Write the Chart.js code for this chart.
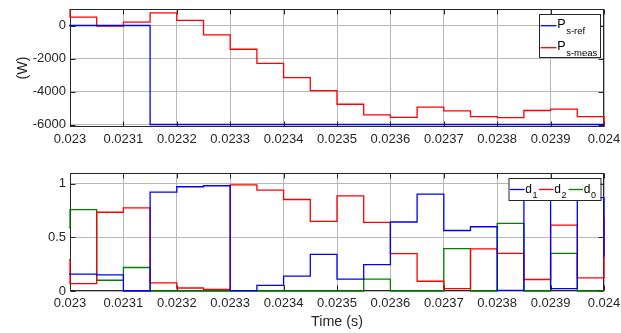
<!DOCTYPE html>
<html><head><meta charset="utf-8">
<script src="https://cdn.jsdelivr.net/npm/chart.js@4/dist/chart.umd.min.js"></script>
<style>
html,body{margin:0;padding:0;background:#fff;width:621px;height:333px;overflow:hidden}
canvas{position:absolute;left:0}
#c1{top:0}
#c2{top:160px}
</style></head><body>
<canvas id="c1" width="621" height="160"></canvas>
<canvas id="c2" width="621" height="173"></canvas>
<script>
// ---- data ----
const time = [0.02295, 0.023, 0.02305, 0.0231, 0.02315, 0.0232, 0.02325, 0.0233, 0.02335, 0.0234, 0.02345,
              0.0235, 0.02355, 0.0236, 0.02365, 0.0237, 0.02375, 0.0238, 0.02385, 0.0239, 0.02395, 0.024];
const pRef  = [0, 0, 0, 0, -6000, -6000, -6000, -6000, -6000, -6000, -6000,
               -6000, -6000, -6000, -6000, -6000, -6000, -6000, -6000, -6000, -6000, -6000];
const pMeas = [1200, 510, -30, 200, 760, 310, -570, -1440, -2300, -3160, -3950,
               -4770, -5420, -5570, -4950, -5170, -5520, -5580, -5150, -5070, -5520, -6050];
const d1 = [0.157, 0.157, 0.150, 0.0, 0.922, 0.972, 0.981, 0.003, 0.053, 0.138, 0.342,
            0.11, 0.245, 0.643, 0.903, 0.564, 0.599, 0.006, 0.88, 0.022, 0.87, 0.32];
const d2 = [0.29, 0.069, 0.734, 0.774, 0.075, 0.028, 0.016, 0.99, 0.94, 0.853, 0.649,
            0.887, 0.639, 0.348, 0.091, 0.022, 0.392, 0.351, 0.107, 0.614, 0.122, 0.68];
const d0 = [0.59, 0.759, 0.10, 0.219, 0, 0, 0, 0, 0, 0, 0,
            0, 0.11, 0, 0, 0.395, 0, 0.630, 0, 0.351, 0, 0];
const xTickLabels = ['0.023','0.0231','0.0232','0.0233','0.0234','0.0235','0.0236','0.0237','0.0238','0.0239','0.024'];
const yTopTickLabels = ['-6000','-4000','-2000','0'];
const yBotTickLabels = ['0','0.5','1'];
const topLegend = [{main:'P', sub:'s-ref'}, {main:'P', sub:'s-meas'}];
const botLegend = [{main:'d', sub:'1'}, {main:'d', sub:'2'}, {main:'d', sub:'0'}];
const xTitle = 'Time (s)';
const yTopTitle = '(W)';

// ---- styling ----
const FONT = '"Liberation Sans", Arial, Helvetica, sans-serif';
const TXT = '#262626';
const GRID = '#b8b8b8';
const BLUE = '#0000ff', RED = '#ff0000', GREEN = '#008000';

const boxPlugin = {
  id: 'mbox',
  beforeDatasetsDraw(chart) {
    const {ctx, chartArea: a, scales} = chart;
    ctx.save();
    ctx.strokeStyle = TXT; ctx.lineWidth = 1;
    const l = Math.round(a.left) + 0.5, r = Math.round(a.right) - 0.5;
    const t = Math.round(a.top) + 0.5, b = Math.round(a.bottom) - 0.5;
    ctx.strokeRect(l, t, r - l, b - t);
    const L = 5;
    ctx.beginPath();
    scales.x.ticks.forEach(tk => {
      const px = Math.round(scales.x.getPixelForValue(tk.value)) + 0.5;
      ctx.moveTo(px, b); ctx.lineTo(px, b - L);
      ctx.moveTo(px, t); ctx.lineTo(px, t + L);
    });
    scales.y.ticks.forEach(tk => {
      const py = Math.round(scales.y.getPixelForValue(tk.value)) + 0.5;
      ctx.moveTo(l, py); ctx.lineTo(l + L, py);
      ctx.moveTo(r, py); ctx.lineTo(r - L, py);
    });
    ctx.stroke();
    ctx.restore();
  }
};

const legendPlugin = {
  id: 'mlegend',
  afterDraw(chart, args, o) {
    if (!o || !o.items) return;
    const {ctx} = chart;
    ctx.save();
    ctx.fillStyle = '#fff';
    ctx.fillRect(o.box.x, o.box.y, o.box.w, o.box.h);
    ctx.strokeStyle = TXT; ctx.lineWidth = 1;
    ctx.strokeRect(o.box.x + 0.5, o.box.y + 0.5, o.box.w, o.box.h);
    o.items.forEach((it, i) => {
      const p = o.pos[i];
      ctx.strokeStyle = o.colors[i]; ctx.lineWidth = 1.3;
      ctx.beginPath(); ctx.moveTo(p.x, p.y); ctx.lineTo(p.x + o.lineLen, p.y); ctx.stroke();
      ctx.fillStyle = '#000'; ctx.textBaseline = 'alphabetic'; ctx.textAlign = 'left';
      ctx.font = o.mainSize + 'px ' + FONT;
      const tx = p.x + o.lineLen + 0.8;
      ctx.fillText(it.main, tx, p.y + o.mainDy);
      const w = ctx.measureText(it.main).width;
      ctx.font = o.subSize + 'px ' + FONT;
      ctx.fillText(it.sub, tx + w + 0.5, p.y + o.subDy);
    });
    ctx.restore();
  }
};

function series(ys) { return time.map((t, i) => ({x: t, y: ys[i]})); }
function ds(label, ys, color) {
  return {label, data: series(ys), borderColor: color, backgroundColor: color, stepped: 'before',
          pointRadius: 0, borderWidth: 1.3, fill: false, clip: {left: 1, right: 1, top: 0, bottom: 1}};
}
function xScale(showTitle, height) {
  return {
    type: 'linear', min: 0.023, max: 0.024,
    afterBuildTicks: s => { s.ticks = xTickLabels.map(v => ({value: parseFloat(v)})); },
    ticks: {callback: (v, i) => xTickLabels[i], font: {family: FONT, size: 13}, color: TXT,
            padding: 5, maxRotation: 0, autoSkip: false},
    grid: {color: GRID, drawTicks: false, lineWidth: 1},
    border: {display: false},
    title: {display: showTitle, text: xTitle, font: {family: FONT, size: 14.3}, color: TXT, padding: {top: 0, bottom: 2.5}},
    afterFit: s => { s.height = height; s.paddingRight = 0; s.paddingLeft = 0; }
  };
}
function yScale(min, max, labels, title) {
  return {
    type: 'linear', min, max,
    afterBuildTicks: s => { s.ticks = labels.map(v => ({value: parseFloat(v)})); },
    ticks: {callback: (v, i) => labels[i], font: {family: FONT, size: 13}, color: TXT, padding: 4, autoSkip: false},
    grid: {color: GRID, drawTicks: false, lineWidth: 1},
    border: {display: false},
    title: {display: !!title, text: title || '', font: {family: FONT, size: 14.3}, color: TXT, padding: {top: 14, bottom: 0}},
    afterFit: s => { s.width = 70; s.paddingTop = 0; s.paddingBottom = 0; }
  };
}

new Chart(document.getElementById('c1'), {
  type: 'line',
  data: {datasets: [ds('P s-ref', pRef, BLUE), ds('P s-meas', pMeas, RED)]},
  options: {
    responsive: false, animation: false, devicePixelRatio: 1,
    layout: {padding: {top: 9, right: 17, left: 0, bottom: 0}},
    plugins: {
      legend: {display: false}, tooltip: {enabled: false},
      mlegend: {items: topLegend, colors: [BLUE, RED], box: {x: 539, y: 14, w: 61, h: 43},
                pos: [{x: 540.5, y: 25.7}, {x: 540.5, y: 47.7}], lineLen: 16,
                mainSize: 12.5, subSize: 9.5, mainDy: 2.5, subDy: 8}
    },
    scales: {x: xScale(false, 33), y: yScale(-6150, 1000, yTopTickLabels, yTopTitle)}
  },
  plugins: [boxPlugin, legendPlugin]
});

new Chart(document.getElementById('c2'), {
  type: 'line',
  data: {datasets: [ds('d1', d1, BLUE), ds('d2', d2, RED), ds('d0', d0, GREEN)]},
  options: {
    responsive: false, animation: false, devicePixelRatio: 1,
    layout: {padding: {top: 13, right: 17, left: 0, bottom: 0}},
    plugins: {
      legend: {display: false}, tooltip: {enabled: false},
      mlegend: {items: botLegend, colors: [BLUE, RED, GREEN], box: {x: 508.5, y: 18, w: 92, h: 22},
                pos: [{x: 510, y: 29.5}, {x: 539, y: 29.5}, {x: 568.5, y: 29.5}], lineLen: 14.5,
                mainSize: 12, subSize: 9, mainDy: 3, subDy: 8.5}
    },
    scales: {x: xScale(true, 42), y: yScale(0, 1.1, yBotTickLabels, null)}
  },
  plugins: [boxPlugin, legendPlugin]
});
</script>
</body></html>
